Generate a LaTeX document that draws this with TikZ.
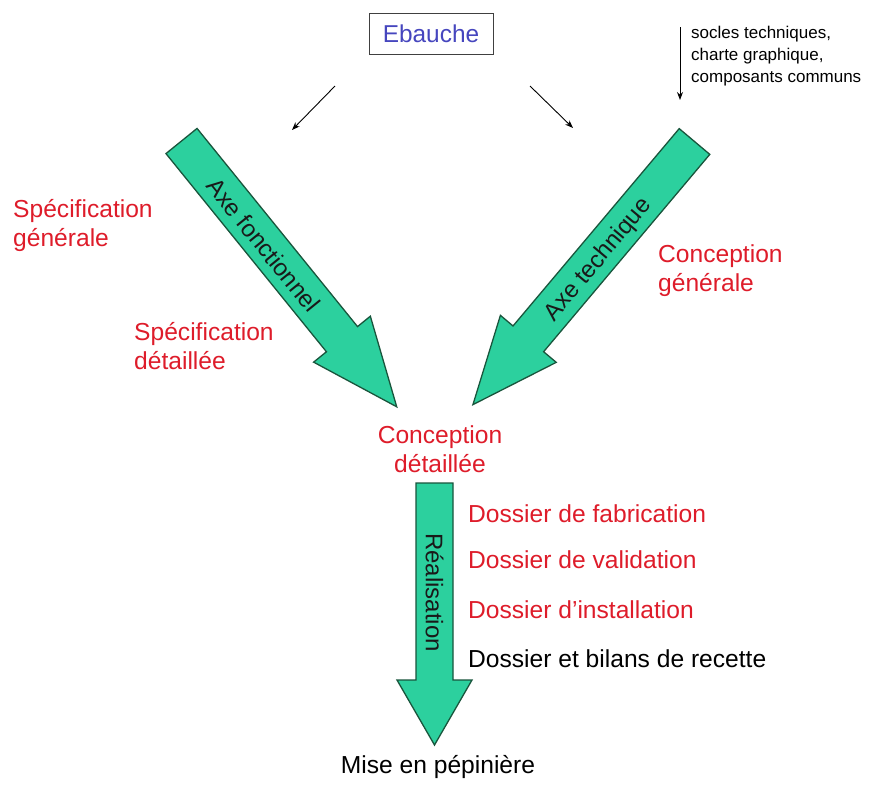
\documentclass[tikz,border=0pt]{standalone}
\usepackage{fontspec}
\setmainfont{Liberation Sans}
\usetikzlibrary{arrows.meta}
\definecolor{arrowgreen}{RGB}{44,208,158}
\definecolor{arrowedge}{RGB}{25,85,60}
\definecolor{labelred}{RGB}{222,28,42}
\definecolor{ebblue}{RGB}{70,70,190}
\begin{document}
\begin{tikzpicture}[x=1pt,y=-1pt,
  bigarrow/.style={fill=arrowgreen, draw=arrowedge, line width=1.3pt, line join=miter},
  redlabel/.style={text=labelred, font=\fontsize{24.6}{29}\selectfont, inner sep=0pt, align=left},
  blacklabel/.style={text=black, font=\fontsize{24.6}{29}\selectfont, inner sep=0pt},
  smallarrow/.style={draw=black, line width=0.9pt, -{Stealth[length=8pt,width=6pt]}},
  axetext/.style={font=\fontsize{24}{29}\selectfont, text=black!90, inner sep=0pt}]
\useasboundingbox (0,0) rectangle (879,785);

% left big arrow
\begin{scope}[shift={(181.5,141)}, rotate=-51]
  \draw[bigarrow] (0,-20) -- (255,-20) -- (255,-36.5) -- (342,0) -- (255,36.5) -- (255,20) -- (0,20) -- cycle;
\end{scope}
% right big arrow
\begin{scope}[shift={(694.5,141.5)}, rotate=-130.1]
  \draw[bigarrow] (0,-20) -- (258,-20) -- (258,-36.5) -- (344,0) -- (258,36.5) -- (258,20) -- (0,20) -- cycle;
\end{scope}
% vertical arrow
\draw[bigarrow] (416,483) -- (453,483) -- (453,680) -- (472,680) -- (434.5,745) -- (397,680) -- (416,680) -- cycle;

\node[axetext, rotate=-51] (axef) at (263.5,245) {Axe fonctionnel};
\node[axetext, rotate=50] (axet) at (598.5,260) {Axe technique};
\node[axetext, rotate=-90] (real) at (434.5,592.5) {Réalisation};

\node[draw=black!75, line width=0.9pt, minimum width=124pt, minimum height=41pt, inner sep=0pt,
      text=ebblue, font=\fontsize{24.4}{29}\selectfont] (ebauche) at (431,33.5) {Ebauche};

\coordinate (la1) at (335,86); \coordinate (la2) at (292,130);
\coordinate (ra1) at (530,86); \coordinate (ra2) at (573,128);
\coordinate (sa1) at (680,27); \coordinate (sa2) at (680,100);
\draw[smallarrow] (la1) -- (la2);
\draw[smallarrow] (ra1) -- (ra2);
\draw[smallarrow] (sa1) -- (sa2);

\node[font=\fontsize{17}{22}\selectfont, align=left, anchor=north west, inner sep=0pt] (socles)
  at (691,26) {socles techniques,\\charte graphique,\\composants communs};

\node[redlabel, anchor=north west] (specg) at (13,199) {Spécification\\générale};
\node[redlabel, anchor=north west] (specd) at (134,322) {Spécification\\détaillée};
\node[redlabel, anchor=north west] (concg) at (658,244.5) {Conception\\générale};
\node[redlabel, anchor=north, align=center] (concd) at (440,425.5) {Conception\\détaillée};

\node[redlabel, anchor=base west] (dfab) at (468,522) {Dossier de fabrication};
\node[redlabel, anchor=base west] (dval) at (468,568) {Dossier de validation};
\node[redlabel, anchor=base west] (dinst) at (468,618) {Dossier d’installation};
\node[blacklabel, anchor=base west] (drec) at (468,667) {Dossier et bilans de recette};

\node[blacklabel, anchor=base] (mise) at (438,773) {Mise en pépinière};
\end{tikzpicture}
\end{document}
